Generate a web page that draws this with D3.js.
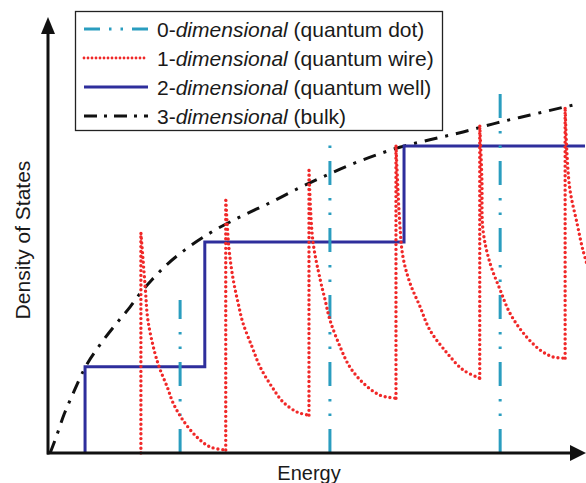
<!DOCTYPE html>
<html>
<head>
<meta charset="utf-8">
<script src="https://cdn.jsdelivr.net/npm/d3@7"></script>
<style>
  body { margin: 0; background: #fff; }
  text { font-family: "Liberation Sans", Arial, sans-serif; fill: #1a1a1a; }
</style>
</head>
<body>
<div id="chart"></div>
<script>
// bulk (3D) curve
const bulkE   = [0.4, 1.5, 3.0, 4.5, 6.9, 9.7, 12.5, 15.3, 17.1, 19.4, 22.3, 25.5, 30.2, 35.8, 41.3, 46.4, 50.7, 56.2, 61.8, 65.5, 71.1, 77.3, 83.6, 89.8, 97.8];
const bulkDOS = [0, 3.6, 8.9, 13.2, 19.6, 24.9, 29.4, 33.6, 36.6, 39.9, 43.5, 46.7, 50.6, 54.3, 57.5, 60.7, 63.2, 66.2, 68.8, 70.3, 72.0, 73.8, 75.9, 77.7, 80.0];

// quantum well (2D) steps
const wellEdges  = [6.9, 29.2, 66.3];
const wellLevels = [19.8, 48.5, 70.6];

// quantum dot (0D) delta lines
const dotEnergies = [24.6, 52.5, 84.2];
const dotHeights  = [35.2, 72.0, 83.0];

// quantum wire (1D) subbands: onset, peak and decaying tail
const wireOnsets = [17.3, 33.1, 48.6, 64.8, 80.4, 96.3];
const wirePeaks  = [50.6, 58.6, 65.5, 70.8, 75.4, 79.5];
const wireTails  = [
  [[18.1, 38.2], [18.6, 30.6], [19.9, 23.0], [20.9, 19.1], [22.2, 15.2], [23.3, 11.5], [25.1, 7.6], [27.7, 3.7], [30.2, 1.4], [33.1, 0.7]],
  [[33.7, 47.0], [34.5, 39.8], [35.4, 34.5], [36.3, 29.9], [38.0, 24.4], [39.5, 19.8], [41.7, 15.2], [43.8, 11.7], [46.4, 9.4], [48.6, 8.7]],
  [[49.3, 49.0], [50.7, 39.8], [51.6, 35.2], [52.5, 30.6], [54.4, 24.4], [56.2, 19.8], [58.7, 16.1], [61.8, 13.3], [64.8, 12.6]],
  [[65.5, 52.9], [66.1, 45.1], [67.4, 39.1], [69.3, 33.6], [71.1, 28.3], [74.3, 23.0], [77.3, 19.1], [80.4, 17.2]],
  [[80.8, 62.8], [81.0, 51.3], [82.3, 43.7], [84.2, 37.5], [86.0, 32.2], [88.5, 27.6], [91.6, 23.7], [94.0, 22.1], [96.3, 21.8]],
  [[96.6, 69.7], [97.2, 60.5], [98.5, 52.9], [99.6, 46.7], [100.6, 42.5]]
];

const legendRows = [
  { n: '0-', it: 'dimensional', rest: ' (quantum dot)', key: 'dot' },
  { n: '1-', it: 'dimensional', rest: ' (quantum wire)', key: 'wire' },
  { n: '2-', it: 'dimensional', rest: ' (quantum well)', key: 'well' },
  { n: '3-', it: 'dimensional', rest: ' (bulk)', key: 'bulk' }
];

const width = 586, height = 483;
const styles = {
  dot:  { stroke: '#2a9dbf', width: 3, dash: '24 13 2.5 12 2.5 13', cap: 'butt', legendDash: '16 9 2.5 9 2.5 9' },
  wire: { stroke: '#f02828', width: 3.4, dash: '0 4.8', cap: 'round', legendDash: '0 4' },
  well: { stroke: '#2e2e9c', width: 3, dash: null, cap: 'butt' },
  bulk: { stroke: '#111', width: 3, dash: '13 8 3 8', cap: 'butt', legendDash: '13 7 3 7' }
};

const svg = d3.select('#chart').append('svg')
  .attr('width', width)
  .attr('height', height);

const x = d3.scaleLinear().domain([0, 100]).range([48, 585]);
const y = d3.scaleLinear().domain([0, 100]).range([453, 18]);

function styled(sel, s, inLegend) {
  return sel.attr('fill', 'none')
    .attr('stroke', s.stroke)
    .attr('stroke-width', inLegend && s.key === 'wire' ? 2.8 : s.width)
    .attr('stroke-dasharray', inLegend && s.legendDash ? s.legendDash : s.dash)
    .attr('stroke-linecap', s.cap);
}

const line = d3.line().x(d => x(d[0])).y(d => y(d[1]));

// bulk
styled(svg.append('path'), styles.bulk)
  .attr('d', line.curve(d3.curveMonotoneX)(bulkE.map((e, i) => [e, bulkDOS[i]])));

// well staircase
const wellPts = [[wellEdges[0], 0]];
wellEdges.forEach((e, i) => {
  wellPts.push([e, wellLevels[i]]);
  wellPts.push([i < wellEdges.length - 1 ? wellEdges[i + 1] : 100, wellLevels[i]]);
});
styled(svg.append('path'), styles.well)
  .attr('d', d3.line().x(d => x(d[0])).y(d => y(d[1]))(wellPts));

// dots
svg.selectAll('.dot')
  .data(dotEnergies)
  .enter()
  .append('path')
  .attr('class', 'dot')
  .call(s => styled(s, styles.dot))
  .attr('d', (e, i) => `M${x(e)},${y(0)}V${y(dotHeights[i])}`);

// wire subbands
const tailLine = d3.line().x(d => x(d[0])).y(d => y(d[1])).curve(d3.curveCatmullRom.alpha(0.5));
wireOnsets.forEach((e0, i) => {
  const base = i === 0 ? 0 : wireTails[i - 1][wireTails[i - 1].length - 1][1];
  styled(svg.append('path'), styles.wire)
    .attr('d', `M${x(e0)},${y(base)}V${y(wirePeaks[i])}` +
      tailLine([[e0, wirePeaks[i]]].concat(wireTails[i])).replace(/^M/, 'L'));
});

// axes, no ticks, with arrow heads
svg.append('g')
  .attr('transform', `translate(0,${y(0)})`)
  .call(d3.axisBottom(x).tickValues([]).tickSizeOuter(0))
  .call(g => g.select('.domain').attr('stroke', '#111').attr('stroke-width', 3).attr('d', `M${x(0) - 1},0H${x(100) - 8}`));
svg.append('g')
  .attr('transform', `translate(${x(0)},0)`)
  .call(d3.axisLeft(y).tickValues([]).tickSizeOuter(0))
  .call(g => g.select('.domain').attr('stroke', '#111').attr('stroke-width', 3).attr('d', `M0,${y(0) + 1.5}V${y(100) + 8}`));

svg.append('path')
  .attr('d', `M${x(100) + 1},${y(0)}L${x(100) - 15},${y(0) - 8}L${x(100) - 15},${y(0) + 8}Z`)
  .attr('fill', '#111');
svg.append('path')
  .attr('d', `M${x(0)},${y(100) - 1}L${x(0) - 7},${y(100) + 16}L${x(0) + 7},${y(100) + 16}Z`)
  .attr('fill', '#111');

svg.append('text')
  .attr('x', 309).attr('y', 480)
  .attr('text-anchor', 'middle')
  .attr('font-size', 20)
  .text('Energy');
svg.append('text')
  .attr('transform', 'translate(30,240) rotate(-90)')
  .attr('text-anchor', 'middle')
  .attr('font-size', 21)
  .text('Density of States');

// legend
const legend = svg.append('g');
legend.append('rect')
  .attr('x', 75.5).attr('y', 11.5)
  .attr('width', 367).attr('height', 119)
  .attr('fill', '#fff')
  .attr('stroke', '#222')
  .attr('stroke-width', 1.3);

const rows = legend.selectAll('.row')
  .data(legendRows)
  .enter()
  .append('g')
  .attr('class', 'row')
  .attr('transform', (d, i) => `translate(0,${29 + i * 29})`);

rows.append('path')
  .each(function(d) { styled(d3.select(this), Object.assign({ key: d.key }, styles[d.key]), true); })
  .attr('d', 'M84,0H148');

const label = rows.append('text')
  .attr('x', 157).attr('y', 7.5)
  .attr('font-size', 21);
label.append('tspan').text(d => d.n);
label.append('tspan').attr('font-style', 'italic').text(d => d.it);
label.append('tspan').text(d => d.rest);
</script>
</body>
</html>
